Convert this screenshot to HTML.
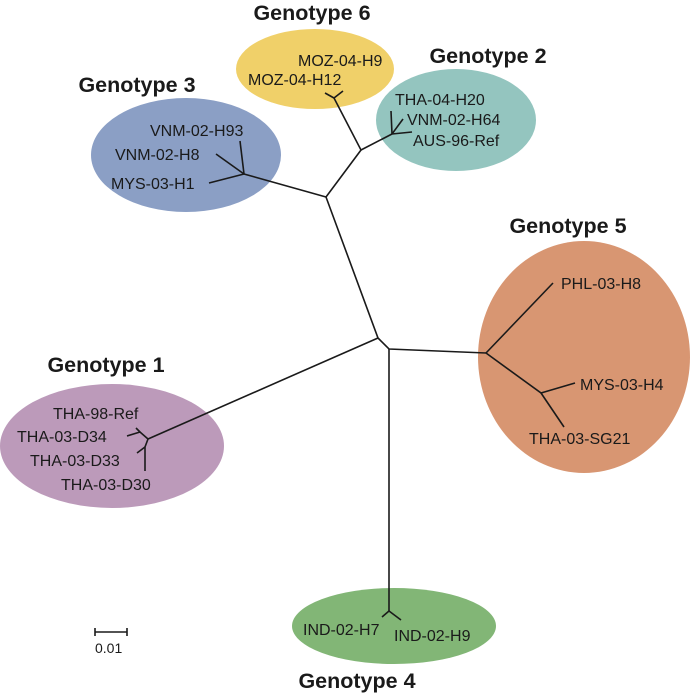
<!DOCTYPE html>
<html><head><meta charset="utf-8"><style>
html,body{margin:0;padding:0;background:#fff;}
svg{display:block;}
text{font-family:"Liberation Sans",Arial,sans-serif;fill:#1a1a1a;}
.g{font-weight:bold;font-size:21.5px;}
.l{font-size:16px;}
</style></head><body>
<svg width="691" height="697" viewBox="0 0 691 697" xmlns="http://www.w3.org/2000/svg">
<ellipse cx="315" cy="69" rx="79" ry="40" fill="#f0d069"/>
<ellipse cx="456" cy="120" rx="80" ry="51" fill="#94c5bf"/>
<ellipse cx="186" cy="155" rx="95" ry="57" fill="#8b9fc5"/>
<ellipse cx="584" cy="357" rx="106" ry="116" fill="#d89672"/>
<ellipse cx="112" cy="446" rx="112" ry="62" fill="#bc9aba"/>
<ellipse cx="394" cy="626" rx="102" ry="38" fill="#82b676"/>
<g stroke="#1a1a1a" stroke-width="1.6" fill="none">
<polyline points="326,197 361,150 334,98"/>
<line x1="334" y1="98" x2="325" y2="93"/><line x1="334" y1="98" x2="343" y2="91"/>
<polyline points="361,150 392,134"/>
<line x1="392" y1="134" x2="391" y2="111"/><line x1="392" y1="134" x2="403" y2="119"/><line x1="392" y1="134" x2="412" y2="132"/>
<polyline points="326,197 244,174"/>
<line x1="244" y1="174" x2="240" y2="141"/><line x1="244" y1="174" x2="216" y2="154"/><line x1="244" y1="174" x2="209" y2="183"/>
<polyline points="326,197 378,338 389,349 486,353"/>
<line x1="486" y1="353" x2="553" y2="283"/>
<polyline points="486,353 541,393 564,427"/><line x1="541" y1="393" x2="575" y2="383"/>
<polyline points="389,349 389,611"/>
<line x1="389" y1="611" x2="382" y2="617"/><line x1="389" y1="611" x2="401" y2="620"/>
<polyline points="378,338 148,439"/>
<polyline points="148,439 140,432 127,436"/><line x1="140" y1="432" x2="136" y2="428"/>
<polyline points="148,439 145,447 145,471"/><line x1="145" y1="447" x2="137" y2="453"/>
<line x1="95" y1="632" x2="127" y2="632"/><line x1="95" y1="628" x2="95" y2="636"/><line x1="127" y1="628" x2="127" y2="636"/>
</g>
<text class="g" x="312" y="20" text-anchor="middle">Genotype 6</text>
<text class="g" x="137" y="92" text-anchor="middle">Genotype 3</text>
<text class="g" x="488" y="63" text-anchor="middle">Genotype 2</text>
<text class="g" x="568" y="233" text-anchor="middle">Genotype 5</text>
<text class="g" x="106" y="372" text-anchor="middle">Genotype 1</text>
<text class="g" x="357" y="688" text-anchor="middle">Genotype 4</text>
<text class="l" x="298" y="66">MOZ-04-H9</text>
<text class="l" x="248" y="85">MOZ-04-H12</text>
<text class="l" x="150" y="136">VNM-02-H93</text>
<text class="l" x="115" y="160">VNM-02-H8</text>
<text class="l" x="111" y="189">MYS-03-H1</text>
<text class="l" x="395" y="105">THA-04-H20</text>
<text class="l" x="407" y="125">VNM-02-H64</text>
<text class="l" x="413" y="146">AUS-96-Ref</text>
<text class="l" x="561" y="289">PHL-03-H8</text>
<text class="l" x="580" y="390">MYS-03-H4</text>
<text class="l" x="529" y="444">THA-03-SG21</text>
<text class="l" x="53" y="419">THA-98-Ref</text>
<text class="l" x="17" y="442">THA-03-D34</text>
<text class="l" x="30" y="466">THA-03-D33</text>
<text class="l" x="61" y="490">THA-03-D30</text>
<text class="l" x="303" y="635">IND-02-H7</text>
<text class="l" x="394" y="641">IND-02-H9</text>
<text class="l" x="95" y="653" style="font-size:14px">0.01</text>
</svg>
</body></html>
